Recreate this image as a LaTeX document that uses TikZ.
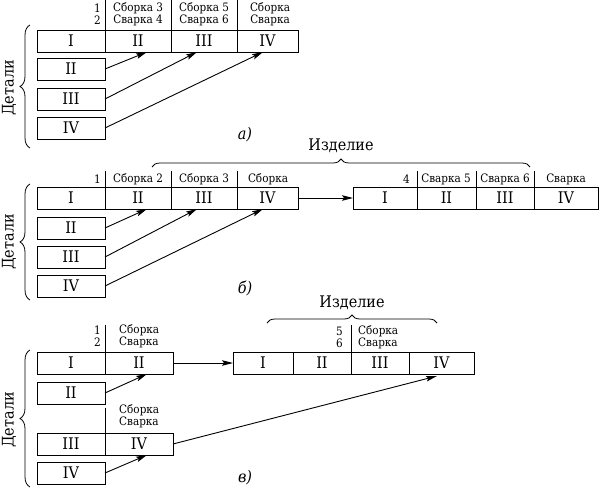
\documentclass[tikz,border=0pt]{standalone}
\usepackage{fontspec}
\setmainfont{DejaVu Serif Condensed}
\usetikzlibrary{arrows.meta,calc,decorations.pathreplacing}
\newcommand\fbig{\fontsize{16}{16}\selectfont}
\newcommand\fsml{\fontsize{11.6}{12}\selectfont}
\begin{document}
\begin{tikzpicture}[x=1pt,y=-1pt,
  cell/.style={draw,line width=0.9pt,minimum height=22pt,inner sep=0pt,outer sep=0pt,font=\fbig,anchor=north west},
  arr/.style={line width=0.9pt,-{Stealth[length=11pt,width=5.5pt,inset=2pt]}},
  sep/.style={line width=0.5pt},
  lbl/.style={font=\fsml,inner sep=0pt,align=center},
  lblr/.style={font=\fsml,inner sep=0pt,align=right,anchor=east},
  lbll/.style={font=\fsml,inner sep=0pt,align=left,anchor=west},
  side/.style={font=\fbig,rotate=90,inner sep=0pt},
  brc/.style={decorate,decoration={brace,amplitude=10pt},line width=0.8pt},
  tbrc/.style={decorate,decoration={brace,amplitude=8pt},line width=0.8pt},
  tag/.style={font=\fbig\itshape,inner sep=0pt}]
\useasboundingbox (0,0) rectangle (600,490);

% ---------- a) ----------
\node[cell,minimum width=68pt] (a1) at (37,30) {I};
\node[cell,minimum width=66pt] (a2) at (105,30) {II};
\node[cell,minimum width=66pt] (a3) at (171,30) {III};
\node[cell,minimum width=61pt] (a4) at (237,30) {IV};
\node[cell,minimum width=68pt] (ad2) at (37,58) {II};
\node[cell,minimum width=68pt] (ad3) at (37,88) {III};
\node[cell,minimum width=68pt] (ad4) at (37,117) {IV};
\coordinate (as1) at (105,0); \coordinate (as2) at (171,0); \coordinate (as3) at (237,0);
\draw[sep] (as1) -- (a2.north west);
\draw[sep] (as2) -- (a3.north west);
\draw[sep] (as3) -- (a4.north west);
\node[lblr] (al1) at (101,14) {1\\2};
\node[lbl] (al2) at (138,14) {Сборка 3\\Сварка 4};
\node[lbl] (al3) at (204,14) {Сборка 5\\Сварка 6};
\node[lbl] (al4) at (270,14) {Сборка\\Сварка};
\draw[arr] (ad2.east) -- ($(a2.south west)+(42,0)$);
\draw[arr] (ad3.east) -- ($(a3.south west)+(26,0)$);
\draw[arr] (ad4.east) -- ($(a4.south west)+(26,0)$);
\coordinate (ab1) at (30,148); \coordinate (ab2) at (30,25);
\draw[brc] (ab1) -- (ab2);
\node[side] (ad) at (9,88) {Детали};
\node[tag] (at) at (245,135) {а)};

% ---------- б) ----------
\node[cell,minimum width=68pt] (b1) at (37,187) {I};
\node[cell,minimum width=66pt] (b2) at (105,187) {II};
\node[cell,minimum width=66pt] (b3) at (171,187) {III};
\node[cell,minimum width=61pt] (b4) at (237,187) {IV};
\node[cell,minimum width=68pt] (bd2) at (37,217) {II};
\node[cell,minimum width=68pt] (bd3) at (37,246) {III};
\node[cell,minimum width=68pt] (bd4) at (37,275) {IV};
\node[cell,minimum width=64pt] (p1) at (353,187) {I};
\node[cell,minimum width=59pt] (p2) at (417,187) {II};
\node[cell,minimum width=58pt] (p3) at (476,187) {III};
\node[cell,minimum width=64pt] (p4) at (534,187) {IV};
\coordinate (bs1) at (105,171); \coordinate (bs2) at (171,171); \coordinate (bs3) at (237,171);
\coordinate (bs4) at (417,171); \coordinate (bs5) at (476,171); \coordinate (bs6) at (534,171);
\draw[sep] (bs1) -- (b2.north west);
\draw[sep] (bs2) -- (b3.north west);
\draw[sep] (bs3) -- (b4.north west);
\draw[sep] (bs4) -- (p2.north west);
\draw[sep] (bs5) -- (p3.north west);
\draw[sep] (bs6) -- (p4.north west);
\node[lblr] (bl1) at (101,179) {1};
\node[lbl] (bl2) at (138,179) {Сборка 2};
\node[lbl] (bl3) at (204,179) {Сборка 3};
\node[lbl] (bl4) at (268,179) {Сборка};
\node[lblr] (bl5) at (410,179) {4};
\node[lbl] (bl6) at (446,179) {Сварка 5};
\node[lbl] (bl7) at (505,179) {Сварка 6};
\node[lbl] (bl8) at (566,179) {Сварка};
\draw[arr] (bd2.east) -- ($(b2.south west)+(42,0)$);
\draw[arr] (bd3.east) -- ($(b3.south west)+(26,0)$);
\draw[arr] (bd4.east) -- ($(b4.south west)+(26,0)$);
\draw[arr] (b4.east) -- (p1.west);
\coordinate (bt1) at (152,167); \coordinate (bt2) at (530,167);
\draw[tbrc] (bt1) -- (bt2);
\node[font=\fbig,inner sep=0pt,anchor=base] (bizd) at (341,150) {Изделие};
\coordinate (bb1) at (30,300); \coordinate (bb2) at (30,184);
\draw[brc] (bb1) -- (bb2);
\node[side] (bd) at (9,242) {Детали};
\node[tag] (bt) at (245,288) {б)};

% ---------- в) ----------
\node[cell,minimum width=68pt] (c1) at (37,352) {I};
\node[cell,minimum width=68pt] (c2) at (105,352) {II};
\node[cell,minimum width=68pt] (cd2) at (37,382) {II};
\node[cell,minimum width=68pt] (c3) at (37,433) {III};
\node[cell,minimum width=68pt] (c4) at (105,433) {IV};
\node[cell,minimum width=68pt] (cd4) at (37,462) {IV};
\node[cell,minimum width=60pt] (q1) at (233,352) {I};
\node[cell,minimum width=58pt] (q2) at (293,352) {II};
\node[cell,minimum width=58pt] (q3) at (351,352) {III};
\node[cell,minimum width=65pt] (q4) at (409,352) {IV};
\coordinate (cs1) at (105,325); \coordinate (cs2) at (105,408); \coordinate (cs3) at (351,325);
\draw[sep] (cs1) -- (c2.north west);
\draw[sep] (cs2) -- (c4.north west);
\draw[sep] (cs3) -- (q3.north west);
\node[lblr] (cl1) at (101,336) {1\\2};
\node[lbll] (cl2) at (119,336) {Сборка\\Сварка};
\node[lbll] (cl3) at (119,416) {Сборка\\Сварка};
\node[lblr] (cl4) at (343,337) {5\\6};
\node[lbll] (cl5) at (358,337) {Сборка\\Сварка};
\draw[arr] (cd2.east) -- ($(c2.south west)+(42,0)$);
\draw[arr] (cd4.east) -- ($(c4.south west)+(42,0)$);
\draw[arr] (c2.east) -- (q1.west);
\draw[arr] (c4.east) -- ($(q4.south west)+(28,2)$);
\coordinate (ct1) at (267,323); \coordinate (ct2) at (437,323);
\draw[tbrc] (ct1) -- (ct2);
\node[font=\fbig,inner sep=0pt,anchor=base] (cizd) at (352,307) {Изделие};
\coordinate (cb1) at (30,487); \coordinate (cb2) at (30,350);
\draw[brc] (cb1) -- (cb2);
\node[side] (cd) at (9,420) {Детали};
\node[tag] (ct) at (245,478) {в)};
\end{tikzpicture}
\end{document}
